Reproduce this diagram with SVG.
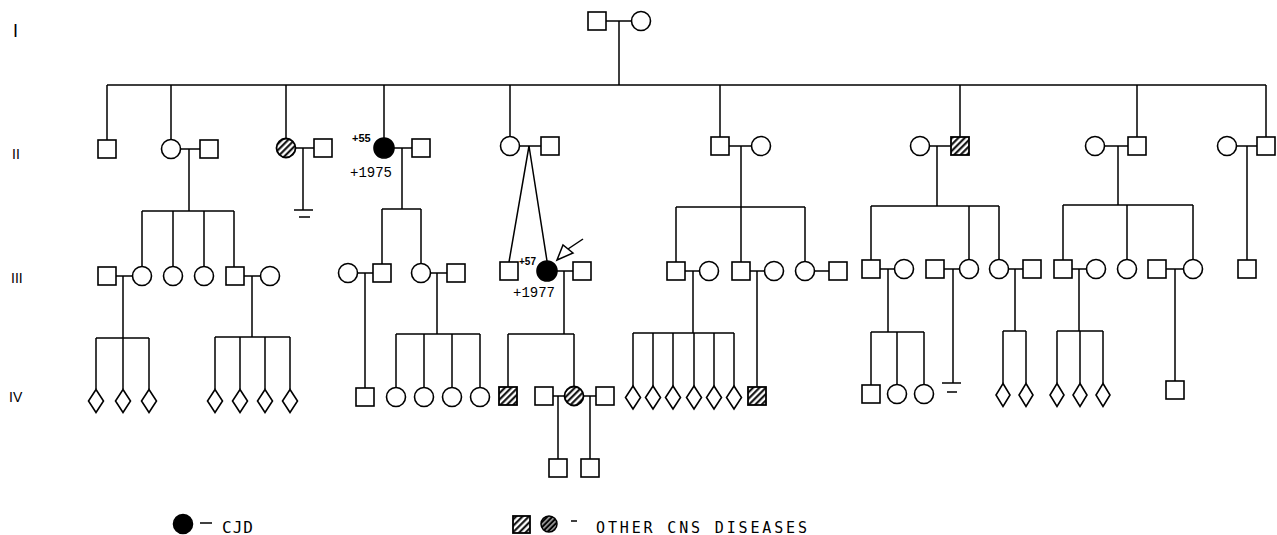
<svg xmlns="http://www.w3.org/2000/svg" width="1277" height="535" viewBox="0 0 1277 535">
<style>
.ln{stroke:#000;stroke-width:1.5;fill:none}
.n{fill:#fff;stroke:#000;stroke-width:1.6}
.aff{fill:#000;stroke:#000;stroke-width:1.6}
.hat{fill:url(#hatch);stroke:#000;stroke-width:1.8}
.gen{font-family:"Liberation Sans",Arial,sans-serif;font-size:14px;fill:#000}
.mono{font-family:"Liberation Mono","Courier New",monospace;font-size:14px;fill:#000}
.small{font-family:"Liberation Sans",Arial,sans-serif;font-weight:bold;fill:#000}
.leg{font-family:"DejaVu Sans Mono",monospace;font-size:15px;fill:#000}
</style>
<defs>
<pattern id="hatch" patternUnits="userSpaceOnUse" width="4.5" height="4.5" patternTransform="rotate(45)">
<rect width="4.5" height="4.5" fill="#fff"/>
<line x1="1.2" y1="0" x2="1.2" y2="4.5" stroke="#000" stroke-width="2"/>
</pattern>
<pattern id="hatch2" patternUnits="userSpaceOnUse" width="3.6" height="3.6" patternTransform="rotate(45)">
<rect width="3.6" height="3.6" fill="#000"/>
<line x1="1.8" y1="0" x2="1.8" y2="3.6" stroke="#fff" stroke-width="1"/>
</pattern>
</defs>
<rect width="1277" height="535" fill="#fff"/>

<g id="generation-labels">
<text class="gen" x="13" y="37" style="font-size:18px">I</text>
<text class="gen" x="12" y="159">II</text>
<text class="gen" x="11" y="283">III</text>
<text class="gen" x="9" y="402">IV</text>
</g>

<g id="connectors">
<path class="ln" d="M606,21 H631.5 M619,21 V85 M107,85 H1266
M107,85 V140 M171,85 V139.5 M286,85 V138.5 M384,85 V138 M510,85 V136.5 M720,85 V137 M960,85 V137 M1137,85 V137 M1266,85 V137"/>
<path class="ln" d="M180.5,149 H200 M189,149 V211 M142,211 H234 M142,211 V266.5 M173,211 V266.5 M204,211 V266.5 M234,211 V267
M116,276 H132.5 M123,276 V338 M96,338 H149 M96,338 V389.5 M123,338 V389.5 M149,338 V389.5
M244,276 H260.5 M252,276 V337 M215,337 H290 M215,337 V389.5 M240,337 V389.5 M265,337 V389.5 M290,337 V389.5"/>
<path class="ln" d="M295.5,148 H314 M303,148 V210 M294,210 H313 M299,217 H310"/>
<path class="ln" d="M394,148 H412 M402,148 V209 M382,209 H421 M382,209 V264 M421,209 V263.5
M357.5,273 H373 M365,273 V388
M430.5,273 H447 M437,273 V334 M396,334 H480 M396,334 V387.5 M424,334 V387.5 M452,334 V387.5 M480,334 V387.5"/>
<path class="ln" d="M519.5,146 H541 M529,146 L509,262 M529,146 L547,261
M557,271 H573 M564,271 V334 M508,334 H574 M508,334 V387 M574,334 V386.5
M553,396 H564.5 M583.5,396 H596 M558,396 V459 M590,396 V459"/>
<path class="ln" d="M729,146 H751.5 M741,146 V207 M676,207 H805 M676,207 V262 M741,207 V262 M805,207 V261.5
M685,271 H699.5 M693,271 V333 M633,333 H734 M633,333 V386 M653,333 V386 M673,333 V386 M694,333 V386 M714,333 V386 M734,333 V386
M750,271 H764.5 M757,271 V387
M814.5,271 H829"/>
<path class="ln" d="M929.5,146 H951 M937,146 V206 M871,206 H999 M871,206 V260 M969,206 V259.5 M999,206 V259.5
M880,269 H894.5 M888,269 V332 M871,332 H924 M871,332 V385 M897,332 V384.5 M924,332 V384.5
M944,269 H959.5 M953,269 V383 M942,383 H961 M947,392 H957
M1008.5,269 H1023 M1015,269 V331 M1003,331 H1026 M1003,331 V383.5 M1026,331 V383.5"/>
<path class="ln" d="M1104.5,146 H1128 M1118,146 V205 M1063,205 H1193 M1063,205 V260 M1127,205 V259.5 M1193,205 V259.5
M1072,269 H1086.5 M1079,269 V331 M1057,331 H1103 M1057,331 V383.5 M1080,331 V383.5 M1103,331 V383.5
M1166,269 H1183.5 M1175,269 V381"/>
<path class="ln" d="M1236.5,146 H1257 M1247,146 V260"/>
<path class="ln" d="M568,249 L583,239"/>
<polygon points="557,260 563,245 573,253" fill="#fff" stroke="#000" stroke-width="1.5"/>
</g>

<g id="I-1"><rect class="n" x="588" y="12" width="18" height="18"/></g>
<g id="I-2"><circle class="n" cx="641" cy="21" r="9.5"/></g>

<g id="II-1"><rect class="n" x="98" y="140" width="18" height="18"/></g>
<g id="II-2"><circle class="n" cx="171" cy="149" r="9.5"/></g>
<g id="II-2s"><rect class="n" x="200" y="140" width="18" height="18"/></g>
<g id="II-3"><circle class="hat" cx="286" cy="148" r="9.5"/></g>
<g id="II-3s"><rect class="n" x="314" y="139" width="18" height="18"/></g>
<g id="II-4"><circle class="aff" cx="384" cy="148" r="10"/>
<text class="small" x="352" y="142" style="font-size:11px">+55</text>
<text class="mono" x="350" y="177">+1975</text></g>
<g id="II-4s"><rect class="n" x="412" y="139" width="18" height="18"/></g>
<g id="II-5"><circle class="n" cx="510" cy="146" r="9.5"/></g>
<g id="II-5s"><rect class="n" x="541" y="137" width="18" height="18"/></g>
<g id="II-6"><rect class="n" x="711" y="137" width="18" height="18"/></g>
<g id="II-6s"><circle class="n" cx="761" cy="146" r="9.5"/></g>
<g id="II-7s"><circle class="n" cx="920" cy="146" r="9.5"/></g>
<g id="II-7"><rect class="hat" x="951" y="137" width="18" height="18"/></g>
<g id="II-8s"><circle class="n" cx="1095" cy="146" r="9.5"/></g>
<g id="II-8"><rect class="n" x="1128" y="137" width="18" height="18"/></g>
<g id="II-9s"><circle class="n" cx="1227" cy="146" r="9.5"/></g>
<g id="II-9"><rect class="n" x="1257" y="137" width="18" height="18"/></g>

<g id="III-1s"><rect class="n" x="98" y="267" width="18" height="18"/></g>
<g id="III-1"><circle class="n" cx="142" cy="276" r="9.5"/></g>
<g id="III-2"><circle class="n" cx="173" cy="276" r="9.5"/></g>
<g id="III-3"><circle class="n" cx="204" cy="276" r="9.5"/></g>
<g id="III-4"><rect class="n" x="226" y="267" width="18" height="18"/></g>
<g id="III-4s"><circle class="n" cx="270" cy="276" r="9.5"/></g>
<g id="III-5s"><circle class="n" cx="348" cy="273" r="9.5"/></g>
<g id="III-5"><rect class="n" x="373" y="264" width="18" height="18"/></g>
<g id="III-6"><circle class="n" cx="421" cy="273" r="9.5"/></g>
<g id="III-6s"><rect class="n" x="447" y="264" width="18" height="18"/></g>
<g id="III-7"><rect class="n" x="500" y="262" width="18" height="18"/>
<text class="small" x="519" y="265" style="font-size:10px">+57</text></g>
<g id="III-8"><circle class="aff" cx="547" cy="271" r="10"/>
<text class="mono" x="513" y="297">+1977</text></g>
<g id="III-8s"><rect class="n" x="573" y="262" width="18" height="18"/></g>
<g id="III-9"><rect class="n" x="667" y="262" width="18" height="18"/></g>
<g id="III-9s"><circle class="n" cx="709" cy="271" r="9.5"/></g>
<g id="III-10"><rect class="n" x="732" y="262" width="18" height="18"/></g>
<g id="III-10s"><circle class="n" cx="774" cy="271" r="9.5"/></g>
<g id="III-11"><circle class="n" cx="805" cy="271" r="9.5"/></g>
<g id="III-11s"><rect class="n" x="829" y="262" width="18" height="18"/></g>
<g id="III-12"><rect class="n" x="862" y="260" width="18" height="18"/></g>
<g id="III-12s"><circle class="n" cx="904" cy="269" r="9.5"/></g>
<g id="III-13s"><rect class="n" x="926" y="260" width="18" height="18"/></g>
<g id="III-13"><circle class="n" cx="969" cy="269" r="9.5"/></g>
<g id="III-14"><circle class="n" cx="999" cy="269" r="9.5"/></g>
<g id="III-14s"><rect class="n" x="1023" y="260" width="18" height="18"/></g>
<g id="III-15"><rect class="n" x="1054" y="260" width="18" height="18"/></g>
<g id="III-15s"><circle class="n" cx="1096" cy="269" r="9.5"/></g>
<g id="III-16"><circle class="n" cx="1127" cy="269" r="9.5"/></g>
<g id="III-17s"><rect class="n" x="1148" y="260" width="18" height="18"/></g>
<g id="III-17"><circle class="n" cx="1193" cy="269" r="9.5"/></g>
<g id="III-18"><rect class="n" x="1238" y="260" width="18" height="18"/></g>

<g id="IV-1"><polygon class="n" points="96,389.5 103.5,401 96,412.5 88.5,401"/></g>
<g id="IV-2"><polygon class="n" points="123,389.5 130.5,401 123,412.5 115.5,401"/></g>
<g id="IV-3"><polygon class="n" points="149,389.5 156.5,401 149,412.5 141.5,401"/></g>
<g id="IV-4"><polygon class="n" points="215,389.5 222.5,401 215,412.5 207.5,401"/></g>
<g id="IV-5"><polygon class="n" points="240,389.5 247.5,401 240,412.5 232.5,401"/></g>
<g id="IV-6"><polygon class="n" points="265,389.5 272.5,401 265,412.5 257.5,401"/></g>
<g id="IV-7"><polygon class="n" points="290,389.5 297.5,401 290,412.5 282.5,401"/></g>
<g id="IV-8"><rect class="n" x="356" y="388" width="18" height="18"/></g>
<g id="IV-9"><circle class="n" cx="396" cy="397" r="9.5"/></g>
<g id="IV-10"><circle class="n" cx="424" cy="397" r="9.5"/></g>
<g id="IV-11"><circle class="n" cx="452" cy="397" r="9.5"/></g>
<g id="IV-12"><circle class="n" cx="480" cy="397" r="9.5"/></g>
<g id="IV-13"><rect class="hat" x="499" y="387" width="18" height="18"/></g>
<g id="IV-14s"><rect class="n" x="535" y="387" width="18" height="18"/></g>
<g id="IV-14"><circle class="hat" cx="574" cy="396" r="9.5"/></g>
<g id="IV-14s2"><rect class="n" x="596" y="387" width="18" height="18"/></g>
<g id="IV-15"><polygon class="n" points="633,386 640.5,397.5 633,409 625.5,397.5"/></g>
<g id="IV-16"><polygon class="n" points="653,386 660.5,397.5 653,409 645.5,397.5"/></g>
<g id="IV-17"><polygon class="n" points="673,386 680.5,397.5 673,409 665.5,397.5"/></g>
<g id="IV-18"><polygon class="n" points="694,386 701.5,397.5 694,409 686.5,397.5"/></g>
<g id="IV-19"><polygon class="n" points="714,386 721.5,397.5 714,409 706.5,397.5"/></g>
<g id="IV-20"><polygon class="n" points="734,386 741.5,397.5 734,409 726.5,397.5"/></g>
<g id="IV-21"><rect class="hat" x="748" y="387" width="18" height="18"/></g>
<g id="IV-22"><rect class="n" x="862" y="385" width="18" height="18"/></g>
<g id="IV-23"><circle class="n" cx="897" cy="394" r="9.5"/></g>
<g id="IV-24"><circle class="n" cx="924" cy="394" r="9.5"/></g>
<g id="IV-25"><polygon class="n" points="1003,383.5 1010,395 1003,406.5 996,395"/></g>
<g id="IV-26"><polygon class="n" points="1026,383.5 1033,395 1026,406.5 1019,395"/></g>
<g id="IV-27"><polygon class="n" points="1057,383.5 1064,395 1057,406.5 1050,395"/></g>
<g id="IV-28"><polygon class="n" points="1080,383.5 1087,395 1080,406.5 1073,395"/></g>
<g id="IV-29"><polygon class="n" points="1103,383.5 1110,395 1103,406.5 1096,395"/></g>
<g id="IV-30"><rect class="n" x="1166" y="381" width="18" height="18"/></g>

<g id="V-1"><rect class="n" x="549" y="459" width="18" height="18"/></g>
<g id="V-2"><rect class="n" x="581" y="459" width="18" height="18"/></g>

<g id="legend-cjd">
<circle class="aff" cx="183" cy="524" r="9.5"/>
<line class="ln" x1="200" y1="523" x2="212" y2="523"/>
<text class="leg" x="222" y="533" style="font-size:16px;letter-spacing:1px">CJD</text>
</g>
<g id="legend-cns">
<rect class="hat" x="513" y="516" width="17" height="17"/>
<circle cx="549" cy="524" r="8" fill="url(#hatch2)" stroke="#000" stroke-width="1.5"/>
<line class="ln" x1="571" y1="521" x2="577" y2="521"/>
<text class="leg" x="596" y="533" textLength="211" lengthAdjust="spacing">OTHER CNS DISEASES</text>
</g>
</svg>
